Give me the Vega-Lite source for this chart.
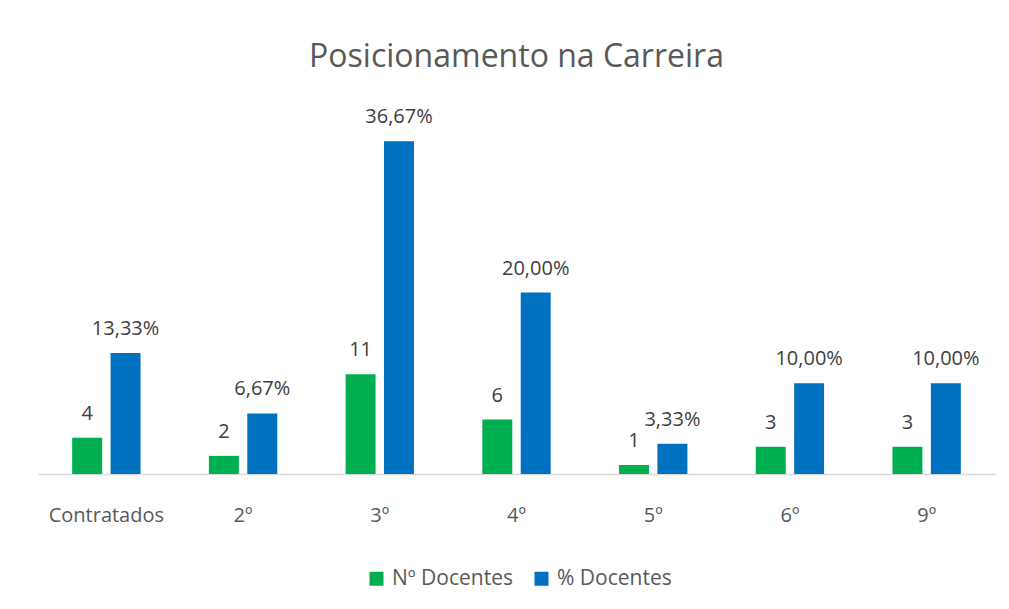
{
  "$schema": "https://vega.github.io/schema/vega-lite/v6.json",
  "width": 957,
  "height": 363,
  "autosize": {"type": "none"},
  "padding": {"left": 38, "top": 111, "right": 14, "bottom": 135},
  "background": "white",
  "title": {
    "text": "Posicionamento na Carreira",
    "font": "Open Sans",
    "fontSize": 32,
    "fontWeight": "normal",
    "color": "#595959",
    "anchor": "middle",
    "offset": 33
  },
  "config": {
    "view": {"stroke": null},
    "font": "Open Sans"
  },
  "data": {
    "values": [
      {"categoria": "Contratados", "serie": "Nº Docentes", "valor": 4, "rotulo": "4"},
      {"categoria": "Contratados", "serie": "% Docentes", "valor": 13.33, "rotulo": "13,33%"},
      {"categoria": "2º", "serie": "Nº Docentes", "valor": 2, "rotulo": "2"},
      {"categoria": "2º", "serie": "% Docentes", "valor": 6.67, "rotulo": "6,67%"},
      {"categoria": "3º", "serie": "Nº Docentes", "valor": 11, "rotulo": "11"},
      {"categoria": "3º", "serie": "% Docentes", "valor": 36.67, "rotulo": "36,67%"},
      {"categoria": "4º", "serie": "Nº Docentes", "valor": 6, "rotulo": "6"},
      {"categoria": "4º", "serie": "% Docentes", "valor": 20.0, "rotulo": "20,00%"},
      {"categoria": "5º", "serie": "Nº Docentes", "valor": 1, "rotulo": "1"},
      {"categoria": "5º", "serie": "% Docentes", "valor": 3.33, "rotulo": "3,33%"},
      {"categoria": "6º", "serie": "Nº Docentes", "valor": 3, "rotulo": "3"},
      {"categoria": "6º", "serie": "% Docentes", "valor": 10.0, "rotulo": "10,00%"},
      {"categoria": "9º", "serie": "Nº Docentes", "valor": 3, "rotulo": "3"},
      {"categoria": "9º", "serie": "% Docentes", "valor": 10.0, "rotulo": "10,00%"}
    ]
  },
  "encoding": {
    "x": {
      "field": "categoria",
      "type": "nominal",
      "sort": ["Contratados", "2º", "3º", "4º", "5º", "6º", "9º"],
      "scale": {"paddingInner": 0.5, "paddingOuter": 0.25},
      "axis": {
        "title": null,
        "labelAngle": 0,
        "labelFont": "Open Sans",
        "labelFontSize": 20,
        "labelColor": "#595959",
        "labelPadding": 31,
        "ticks": false,
        "domainColor": "#d9d9d9",
        "domainWidth": 1.5
      }
    },
    "xOffset": {
      "field": "serie",
      "type": "nominal",
      "sort": ["Nº Docentes", "% Docentes"],
      "scale": {"paddingInner": 0.22, "paddingOuter": 0}
    },
    "y": {
      "field": "valor",
      "type": "quantitative",
      "scale": {"domain": [0, 40], "nice": false},
      "axis": null
    }
  },
  "layer": [
    {
      "mark": {"type": "bar"},
      "encoding": {
        "color": {
          "field": "serie",
          "type": "nominal",
          "sort": ["Nº Docentes", "% Docentes"],
          "scale": {"domain": ["Nº Docentes", "% Docentes"], "range": ["#00b050", "#0070c0"]},
          "legend": {
            "title": null,
            "orient": "none",
            "legendX": 328,
            "legendY": 457,
            "direction": "horizontal",
            "symbolType": "square",
            "symbolSize": 196,
            "symbolStrokeWidth": 0,
            "symbolOpacity": 1,
            "labelFont": "Open Sans",
            "labelFontSize": 21,
            "labelColor": "#595959",
            "labelOffset": 5,
            "columnPadding": 18
          }
        }
      }
    },
    {
      "mark": {
        "type": "text",
        "baseline": "alphabetic",
        "dy": -18,
        "font": "Open Sans",
        "fontSize": 20,
        "color": "#404040"
      },
      "encoding": {
        "text": {"field": "rotulo"}
      }
    }
  ]
}
